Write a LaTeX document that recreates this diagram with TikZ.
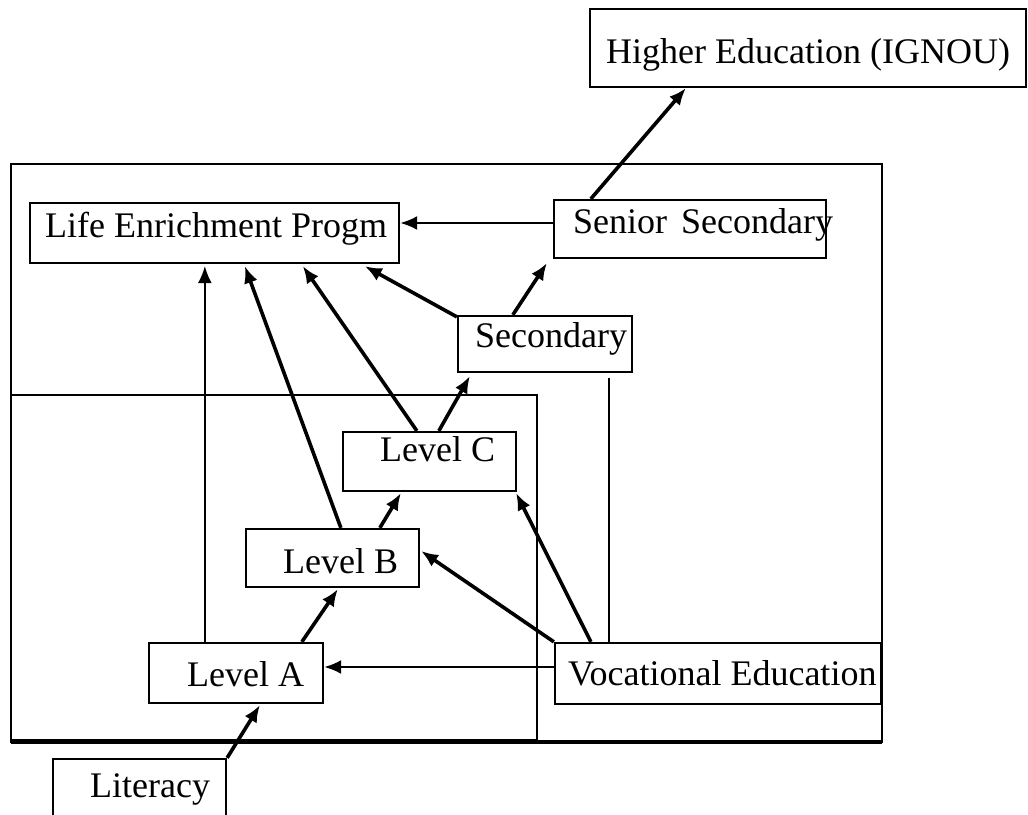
\documentclass[tikz,border=0pt]{standalone}
\usepackage{fontspec}
\setmainfont{Liberation Serif}
\usetikzlibrary{arrows.meta,fit}
\tikzset{
  box/.style={draw, line width=2.3pt, inner sep=0pt, rectangle},
  frame/.style={draw, line width=2.3pt},
  lbl/.style={anchor=base west, inner sep=0pt, font=\fontsize{36}{43}\selectfont},
  arr/.style={line width=3.6pt, -{Latex[length=17pt,width=14pt]}},
  thinarr/.style={line width=1.8pt, -{Latex[length=17pt,width=14pt]}},
  midarr/.style={line width=2.5pt, -{Latex[length=17pt,width=14pt]}},
  thinline/.style={line width=1.8pt},
}
\begin{document}
\begin{tikzpicture}[x=1pt,y=-1pt]
\useasboundingbox (0,0) rectangle (1028,814);
% frames
\draw[frame] (11,164) rectangle (882,742);
\draw[frame] (11,395) rectangle (537,740);
\draw[line width=3.5pt] (11,742) -- (882,742);
% boxes
\node[box, fit={(590,9) (1026,87)}] (he) {};
\node[box, fit={(30,203) (399,263)}] (life) {};
\node[box, fit={(554,200) (826,258)}] (senior) {};
\node[box, fit={(458,316) (632,372)}] (sec) {};
\node[box, fit={(343,432) (516,491)}] (lc) {};
\node[box, fit={(246,529) (419,587)}] (lb) {};
\node[box, fit={(149,643) (323,703)}] (la) {};
\node[box, fit={(555,643) (881,704)}] (voc) {};
\node[box, fit={(53,759) (226,840)}] (lit) {};
% labels
\node[lbl] (the) at (606,63) {Higher Education (IGNOU)};
\node[lbl] (tlife) at (45,237) {Life Enrichment Progm};
\node[lbl] (tsenior) at (573,233) {Senior\hspace{14pt}Secondary};
\node[lbl] (tsec) at (475,347) {Secondary};
\node[lbl] (tlc) at (380,461) {Level C};
\node[lbl] (tlb) at (283,573) {Level B};
\node[lbl] (tla) at (187,686) {Level A};
\node[lbl] (tvoc) at (568,685) {Vocational Education};
\node[lbl] (tlit) at (90,797) {Literacy};
% connectors
\draw[arr] (lit.north east) -- ([shift={(112,1)}]la.south west);
\draw[arr] ([shift={(154,0)}]la.north west) -- ([shift={(93,1)}]lb.south west);
\draw[arr] ([shift={(135,0)}]lb.north west) -- ([shift={(59,1)}]lc.south west);
\draw[arr] ([shift={(97,0)}]lc.north west) -- ([shift={(13,3)}]sec.south west);
\draw[arr] ([shift={(56,0)}]sec.north west) -- ([shift={(-6,4)}]senior.south west);
\draw[arr] ([shift={(38,0)}]senior.north west) -- ([shift={(97,0)}]he.south west);
\draw[midarr] ([shift={(0,-6)}]senior.west) -- ([shift={(0,-10)}]life.east);
\draw[arr] ([shift={(0,2)}]sec.north west) -- ([shift={(336,2)}]life.south west);
\draw[arr] ([shift={(75,0)}]lc.north west) -- ([shift={(274,2)}]life.south west);
\draw[arr] ([shift={(96,0)}]lb.north west) -- ([shift={(216,2)}]life.south west);
\draw[thinarr] ([shift={(57,0)}]la.north west) -- ([shift={(176,2)}]life.south west);
\draw[midarr] ([shift={(0,-6.5)}]voc.west) -- ([shift={(0,-6)}]la.east);
\draw[arr] (voc.north west) -- ([shift={(1,-7)}]lb.east);
\draw[arr] ([shift={(37,0)}]voc.north west) -- ([shift={(-1,1)}]lc.south east);
\draw[thinline] ([shift={(55,0)}]voc.north west) -- ([shift={(152,5)}]sec.south west);
\end{tikzpicture}
\end{document}
